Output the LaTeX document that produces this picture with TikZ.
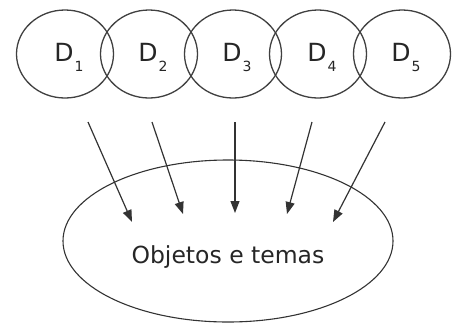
\documentclass[tikz,border=0pt]{standalone}
\usepackage{fontspec}
\setmainfont{DejaVu Sans}
\usetikzlibrary{shapes.geometric,arrows.meta}
\newcommand{\dsub}[1]{\hspace{1pt}\raisebox{-10pt}{\fontsize{14}{14}\selectfont #1}}
\begin{document}
\begin{tikzpicture}[x=1pt,y=-1pt,
  dcirc/.style={draw=black!75, line width=1.3pt, ellipse, minimum width=97pt, minimum height=88pt, inner sep=0pt},
  dlab/.style={font=\fontsize{25}{25}\selectfont, text=black!85, anchor=base, inner sep=0pt},
  arr/.style={draw=black!80, line width=1.2pt, -{Triangle[length=12pt,width=9pt]}},
  bigell/.style={draw=black!80, line width=1.1pt, ellipse, minimum width=330pt, minimum height=162pt, inner sep=0pt},
  obtext/.style={font=\fontsize{23.5}{24}\selectfont, text=black!85, anchor=base, inner sep=0pt}]
\useasboundingbox (0,0) rectangle (453,325);
\node[dcirc] (d1) at (65,54) {};
\node[dcirc] (d2) at (149,54) {};
\node[dcirc] (d3) at (233,54) {};
\node[dcirc] (d4) at (318,54) {};
\node[dcirc] (d5) at (402,54) {};
\node[dlab] (l1) at (69,61) {D\dsub{1}};
\node[dlab] (l2) at (153,61) {D\dsub{2}};
\node[dlab] (l3) at (237,61) {D\dsub{3}};
\node[dlab] (l4) at (322,61) {D\dsub{4}};
\node[dlab] (l5) at (406,61) {D\dsub{5}};
\node[bigell] (obj) at (228,241) {};
\node[obtext] (objt) at (228,263) {Objetos e temas};
\coordinate (a1) at (88,122);
\coordinate (a2) at (152,122);
\coordinate (a3) at (235,122);
\coordinate (a4) at (312,122);
\coordinate (a5) at (385,122);
\coordinate (b1) at (132,222);
\coordinate (b2) at (183,214);
\coordinate (b3) at (235,213);
\coordinate (b4) at (287,214);
\coordinate (b5) at (333,222);
\foreach \i in {1,...,5} \draw[arr] (a\i) -- (b\i);
\end{tikzpicture}
\end{document}
